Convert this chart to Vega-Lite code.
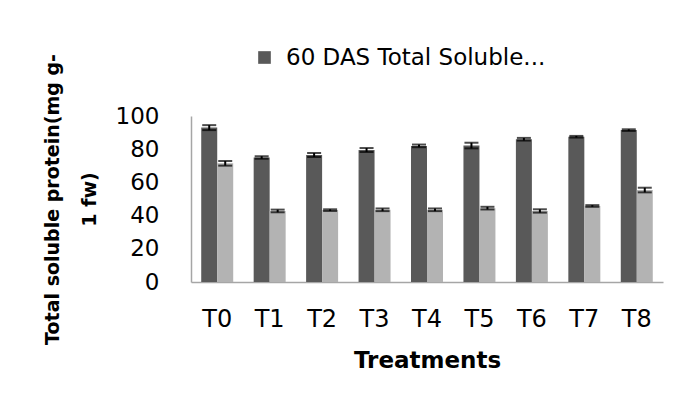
{
  "$schema": "https://vega.github.io/schema/vega-lite/v6.json",
  "width": 472,
  "height": 166,
  "autosize": {"type": "none"},
  "padding": {"left": 191, "top": 116, "right": 25, "bottom": 138},
  "background": "white",
  "config": {
    "view": {"stroke": null},
    "font": "DejaVu Sans",
    "axisY": {
      "title": null,
      "values": [0, 20, 40, 60, 80, 100],
      "labelOverlap": false,
      "labelBound": false,
      "labelFlush": false,
      "grid": false,
      "ticks": false,
      "labelFontSize": 23,
      "labelColor": "black",
      "labelFont": "DejaVu Sans",
      "labelPadding": 32,
      "domainColor": "#a6a6a6",
      "domainWidth": 1.5
    }
  },
  "data": {
    "values": [
      {"treatment": "T0", "series": "60 DAS Total Soluble protein", "value": 93, "low": 91.5, "high": 94.5},
      {"treatment": "T0", "series": "90 DAS Total Soluble protein", "value": 71.5, "low": 70.1, "high": 72.9},
      {"treatment": "T1", "series": "60 DAS Total Soluble protein", "value": 75, "low": 74.2, "high": 75.8},
      {"treatment": "T1", "series": "90 DAS Total Soluble protein", "value": 42.8, "low": 42, "high": 43.6},
      {"treatment": "T2", "series": "60 DAS Total Soluble protein", "value": 76.5, "low": 75.3, "high": 77.7},
      {"treatment": "T2", "series": "90 DAS Total Soluble protein", "value": 43.3, "low": 42.8, "high": 43.8},
      {"treatment": "T3", "series": "60 DAS Total Soluble protein", "value": 79.5, "low": 78.3, "high": 80.7},
      {"treatment": "T3", "series": "90 DAS Total Soluble protein", "value": 43.5, "low": 42.7, "high": 44.3},
      {"treatment": "T4", "series": "60 DAS Total Soluble protein", "value": 82, "low": 81.2, "high": 82.8},
      {"treatment": "T4", "series": "90 DAS Total Soluble protein", "value": 43.5, "low": 42.7, "high": 44.3},
      {"treatment": "T5", "series": "60 DAS Total Soluble protein", "value": 82.2, "low": 80.5, "high": 83.9},
      {"treatment": "T5", "series": "90 DAS Total Soluble protein", "value": 44.5, "low": 43.7, "high": 45.3},
      {"treatment": "T6", "series": "60 DAS Total Soluble protein", "value": 86, "low": 85.2, "high": 86.8},
      {"treatment": "T6", "series": "90 DAS Total Soluble protein", "value": 42.8, "low": 41.8, "high": 43.8},
      {"treatment": "T7", "series": "60 DAS Total Soluble protein", "value": 87.5, "low": 87, "high": 88},
      {"treatment": "T7", "series": "90 DAS Total Soluble protein", "value": 45.8, "low": 45.3, "high": 46.3},
      {"treatment": "T8", "series": "60 DAS Total Soluble protein", "value": 91.5, "low": 91, "high": 92},
      {"treatment": "T8", "series": "90 DAS Total Soluble protein", "value": 55.4, "low": 54, "high": 56.8}
    ]
  },
  "encoding": {
    "x": {
      "field": "treatment",
      "type": "nominal",
      "scale": {"paddingInner": 0.39, "paddingOuter": 0.195},
      "axis": {
        "title": "Treatments",
        "titleFont": "DejaVu Sans",
        "titleFontWeight": "bold",
        "titleFontSize": 23,
        "titleColor": "black",
        "titlePadding": 18,
        "labelAngle": 0,
        "labelFontSize": 24,
        "labelColor": "black",
        "labelFont": "DejaVu Sans",
        "labelPadding": 25,
        "ticks": false,
        "domainColor": "#a6a6a6",
        "domainWidth": 1.5
      }
    },
    "xOffset": {"field": "series", "type": "nominal"}
  },
  "layer": [
    {
      "mark": {"type": "bar"},
      "encoding": {
        "y": {
          "field": "value",
          "type": "quantitative",
          "scale": {"domain": [0, 100]},
          "axis": {
            "title": ["Total soluble protein(mg g-", "1 fw)"],
            "titleFont": "DejaVu Sans",
            "titleFontWeight": "bold",
            "titleFontSize": 19,
            "titleLineHeight": 37,
            "titleColor": "black",
            "titlePadding": 16,
            "values": [0, 20, 40, 60, 80, 100],
            "labelOverlap": false,
            "labelBound": false,
            "labelFlush": false,
            "grid": false,
            "ticks": false,
            "labelFontSize": 23,
            "labelColor": "black",
            "labelFont": "DejaVu Sans",
            "labelPadding": 32,
            "domainColor": "#a6a6a6",
            "domainWidth": 1.5
          }
        },
        "color": {
          "field": "series",
          "type": "nominal",
          "scale": {"range": ["#595959", "#b3b3b3"]},
          "legend": {
            "title": null,
            "orient": "none",
            "legendX": 62,
            "legendY": -70,
            "values": ["60 DAS Total Soluble protein"],
            "labelExpr": "'60 DAS Total Soluble...'",
            "labelLimit": 500,
            "labelFontSize": 23,
            "labelFont": "DejaVu Sans",
            "labelColor": "black",
            "symbolType": "square",
            "symbolSize": 160,
            "symbolStrokeWidth": 0,
            "labelOffset": 10
          }
        }
      }
    },
    {
      "mark": {"type": "rule", "color": "black", "strokeWidth": 2},
      "encoding": {
        "y": {"field": "low", "type": "quantitative", "axis": {"labelOverlap": false, "values": [0, 20, 40, 60, 80, 100]}},
        "y2": {"field": "high"}
      }
    },
    {
      "mark": {"type": "tick", "color": "black", "thickness": 2, "size": 14},
      "encoding": {"y": {"field": "low", "type": "quantitative", "axis": {"labelOverlap": false, "values": [0, 20, 40, 60, 80, 100]}}}
    },
    {
      "mark": {"type": "tick", "color": "black", "thickness": 2, "size": 14},
      "encoding": {"y": {"field": "high", "type": "quantitative", "axis": {"labelOverlap": false, "values": [0, 20, 40, 60, 80, 100]}}}
    }
  ]
}
